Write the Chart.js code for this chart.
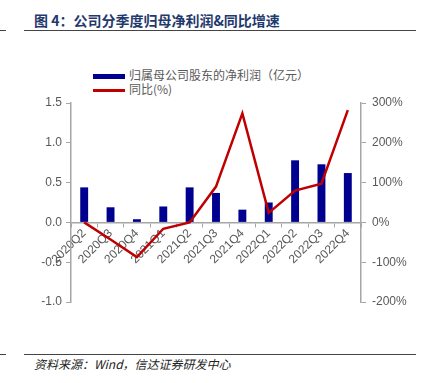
<!DOCTYPE html>
<html><head><meta charset="utf-8">
<script src="https://cdn.jsdelivr.net/npm/chart.js@4/dist/chart.umd.min.js"></script>
<style>
html,body{margin:0;padding:0;background:#fff;width:426px;height:383px;overflow:hidden;position:relative;font-family:"Liberation Sans",Arial,sans-serif}
#c{position:absolute;left:0;top:0}
.title{position:absolute;left:34px;top:11px;font:bold 14px "Noto Sans CJK SC",sans-serif;color:#1F3A6E;white-space:nowrap;line-height:18px}
.hl{position:absolute;height:1px;background:#444}
.foot{position:absolute;left:34px;top:356px;font:italic 12px "Noto Sans CJK SC",sans-serif;color:#222;white-space:nowrap;line-height:16px}
.leg{position:absolute;left:93px;font:12px "Noto Sans CJK SC",sans-serif;color:#595959;white-space:nowrap;line-height:14px}
.leg span.sw{display:inline-block;width:32px;vertical-align:middle;margin-right:4px}
</style></head><body>
<div class="title">图 4：公司分季度归母净利润&amp;同比增速</div>
<div class="hl" style="left:0;width:6px;top:30px"></div>
<div class="hl" style="left:24px;width:392px;top:30px"></div>
<div class="hl" style="left:0;width:6px;top:354px"></div>
<div class="hl" style="left:24px;width:392px;top:354px"></div>
<div class="foot">资料来源：Wind，信达证券研发中心</div>
<div id="legend"></div>
<canvas id="c" width="426" height="383"></canvas>
<script>
const categories = ["2020Q2","2020Q3","2020Q4","2021Q1","2021Q2","2021Q3","2021Q4","2022Q1","2022Q2","2022Q3","2022Q4"];
const profit = [0.44,0.19,0.04,0.20,0.44,0.37,0.16,0.25,0.78,0.73,0.62];
const yoy = [0,-43,-87,-16,0,90,274,24,80,97,282];
const seriesNames = ["归属母公司股东的净利润（亿元）","同比(%)"];
const leftTicks = [-1.0,-0.5,0.0,0.5,1.0,1.5];
const rightTicks = [-200,-100,0,100,200,300];

const BAR = "#000090", LINE = "#C00000", AX = "#A6A6A6", TXT = "#595959";

const lg = document.getElementById('legend');
lg.innerHTML =
  '<div class="leg" style="top:68px"><span class="sw" style="height:5px;background:'+BAR+'"></span>'+seriesNames[0]+'</div>'+
  '<div class="leg" style="top:82px"><span class="sw" style="height:3px;background:'+LINE+'"></span>'+seriesNames[1]+'</div>';

new Chart(document.getElementById('c'), {
  data: {
    labels: categories,
    datasets: [
      {type:'line', label:seriesNames[1], data:yoy, yAxisID:'y1', borderColor:LINE, borderWidth:2.5, pointRadius:0, tension:0, order:0},
      {type:'bar', label:seriesNames[0], data:profit, yAxisID:'y', backgroundColor:BAR, barPercentage:0.3, categoryPercentage:1, order:1}
    ]
  },
  options: {
    responsive:false, animation:false,
    layout:{padding:{left:0,right:0,top:103,bottom:81}},
    plugins:{legend:{display:false}, tooltip:{enabled:false}},
    scales:{
      x:{position:{y:0}, offset:true,
        grid:{display:true, drawOnChartArea:false, offset:true, tickLength:4, color:AX},
        border:{color:AX, width:1.5},
        ticks:{color:TXT, font:{family:"Liberation Sans", size:12}, maxRotation:45, minRotation:45, padding:0, autoSkip:false}
      },
      y:{position:'left', min:-1, max:1.5,
        afterFit(s){s.width=71;},
        afterBuildTicks(s){s.ticks = leftTicks.map(v=>({value:v}));},
        grid:{display:true, drawOnChartArea:false, tickLength:5, color:AX},
        border:{color:AX, width:1.5},
        ticks:{color:TXT, font:{family:"Liberation Sans", size:12}, padding:4, callback:v=>v.toFixed(1)}
      },
      y1:{position:'right', min:-200, max:300,
        afterFit(s){s.width=65;},
        afterBuildTicks(s){s.ticks = rightTicks.map(v=>({value:v}));},
        grid:{display:true, drawOnChartArea:false, tickLength:5, color:AX},
        border:{color:AX, width:1.5},
        ticks:{color:TXT, font:{family:"Liberation Sans", size:12}, padding:6, callback:v=>v+'%'}
      }
    }
  }
});
</script>
</body></html>
